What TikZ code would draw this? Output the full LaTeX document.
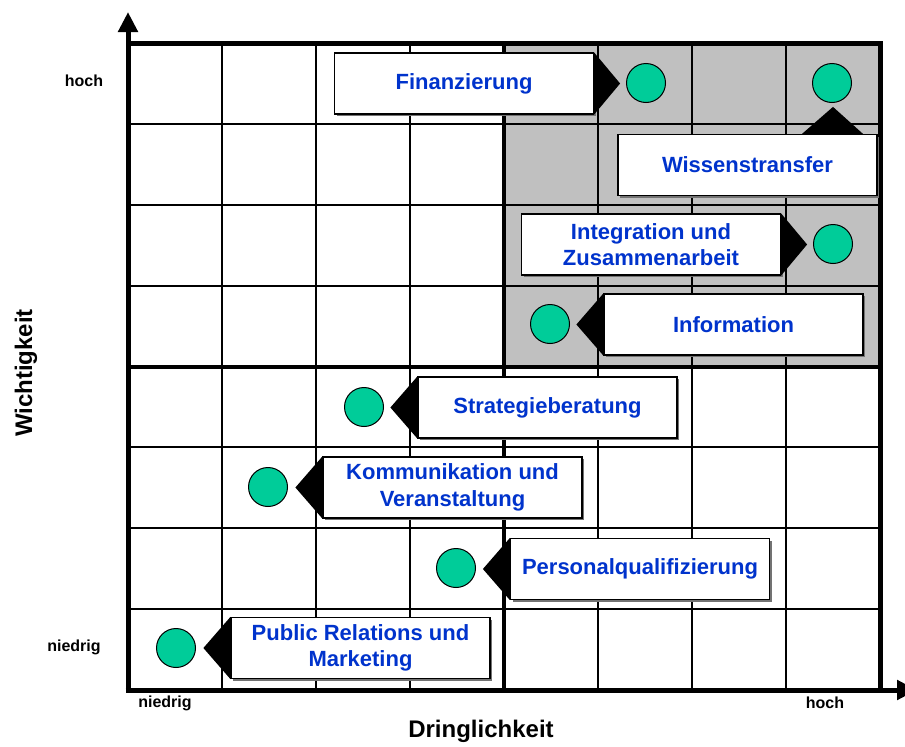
\documentclass[tikz,border=0pt]{standalone}
\usepackage{fontspec}
\setmainfont{Liberation Sans}
\usetikzlibrary{arrows.meta,calc,shadows}

\definecolor{itemblue}{RGB}{0,51,204}
\definecolor{dotgreen}{RGB}{0,204,153}
\definecolor{zonegrey}{RGB}{192,192,192}

\begin{document}
\begin{tikzpicture}[x=1pt,y=-1pt,
  thinline/.style={line width=2pt},
  midline/.style={line width=4pt},
  frameline/.style={line width=5pt},
  axisline/.style={line width=5pt,-{Triangle[width=19pt,length=20pt]}},
  axislabel/.style={font=\fontsize{16}{18}\selectfont\bfseries,inner sep=0pt},
  axistitle/.style={font=\fontsize{24}{28}\selectfont\bfseries,inner sep=0pt},
  itembox/.style={draw=black,line width=1.2pt,fill=white,
    minimum width=259pt,minimum height=61pt,inner sep=0pt,align=center,
    text=itemblue,font=\fontsize{22}{26.5}\selectfont\bfseries,
    drop shadow={shadow xshift=2pt,shadow yshift=-2pt,fill=black!55,opacity=1}},
  pointer/.style={fill=black},
  dot/.style={circle,draw=black,line width=1pt,fill=dotgreen,
    minimum size=39pt,inner sep=0pt}]

\useasboundingbox (0,0) rectangle (905,747);

% high-priority quadrant
\fill[zonegrey] (504,43) rectangle (880,366.5);

% thin grid
\foreach \gx in {222,316,410,598,692,786}
  \draw[thinline] (\gx,43) -- (\gx,690);
\foreach \gy in {123.9,204.75,285.6,447.4,528.25,609.1}
  \draw[thinline] (128,\gy) -- (880,\gy);

% quadrant dividers
\draw[midline] (504,43) -- (504,690);
\draw[midline] (128,366.5) -- (880,366.5);

% frame and axes
\coordinate (O) at (128,690);
\coordinate (ytop) at (128,12);
\coordinate (xend) at (917,690);
\coordinate (tl) at (128,43);
\coordinate (tr) at (880,43);
\coordinate (br) at (880,690);
\draw[frameline,line cap=rect] (tl) -- (tr) -- (br);
\draw[axisline] ($(O)+(0,2.5)$) -- (ytop);
\draw[axisline] ($(O)+(-2.5,0)$) -- (xend);

% axis labels
\node[axislabel] (yhigh) at (84,81) {hoch};
\node[axislabel] (ylow) at (74,647) {niedrig};
\node[axislabel] (xlow) at (165,703) {niedrig};
\node[axislabel] (xhigh) at (825,703) {hoch};
\node[axistitle,rotate=90] (ytitle) at (26,373) {Wichtigkeit};
\node[axistitle] (xtitle) at (481,731) {Dringlichkeit};

% task fields; each pointer sits on one side of its box
\node[itembox] (fin) at (464,83.5) {Finanzierung};
\node[itembox] (wis) at (747.5,165) {Wissenstransfer};
\node[itembox] (int) at (651,244.5) {Integration und\\Zusammenarbeit};
\node[itembox] (inf) at (733.5,324.5) {Information};
\node[itembox] (str) at (547.5,407.5) {Strategieberatung};
\node[itembox] (kom) at (452.5,487.5) {Kommunikation und\\Veranstaltung};
\node[itembox] (per) at (640,569) {Personalqualifizierung};
\node[itembox] (pub) at (360.5,648) {Public Relations und\\Marketing};

% pointers to the right
\foreach \b in {fin,int}
  \fill[pointer] (\b.north east) -- ($(\b.east)+(26,0)$) -- (\b.south east) -- cycle;
% pointers to the left
\foreach \b in {inf,str,kom,per,pub}
  \fill[pointer] (\b.north west) -- ($(\b.west)+(-27,0)$) -- (\b.south west) -- cycle;
% pointer upwards
\fill[pointer] ($(wis.north)+(54.5,0)$) -- ($(wis.north)+(85.5,-27)$)
  -- ($(wis.north)+(115.5,0)$) -- cycle;

% rated positions
\node[dot] (finDot) at (646,83) {};
\node[dot] (wisDot) at (832,83) {};
\node[dot] (intDot) at (833,244) {};
\node[dot] (infDot) at (550,324) {};
\node[dot] (strDot) at (364,407) {};
\node[dot] (komDot) at (268,487) {};
\node[dot] (perDot) at (456,568) {};
\node[dot] (pubDot) at (176,648) {};

\end{tikzpicture}
\end{document}
